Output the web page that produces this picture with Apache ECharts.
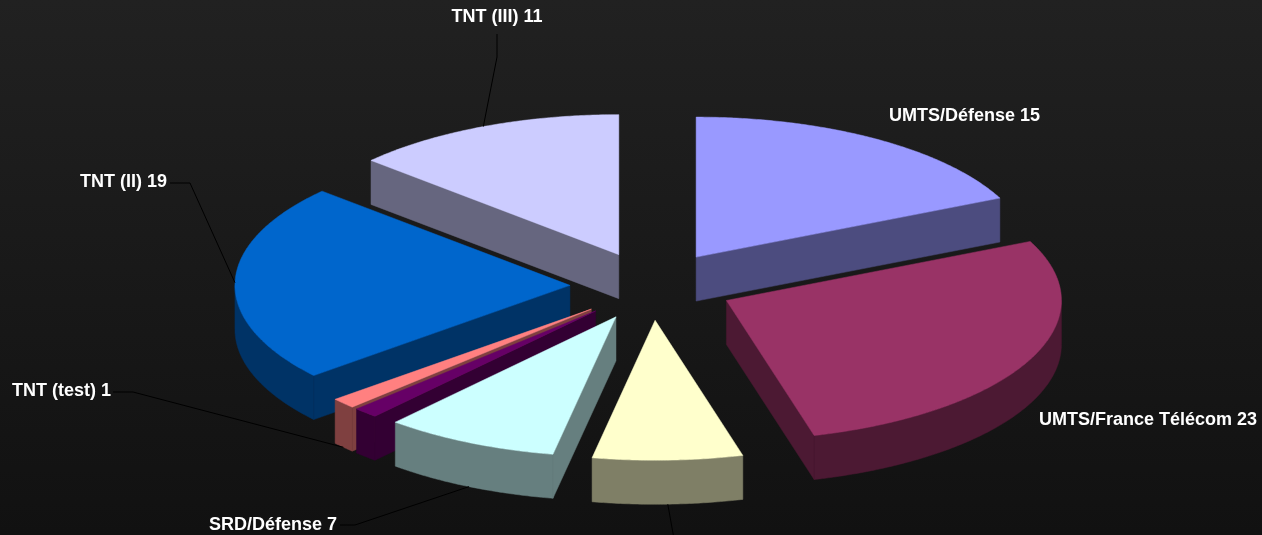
<!DOCTYPE html>
<html><head><meta charset="utf-8">
<script src="https://cdn.jsdelivr.net/npm/echarts@6/dist/echarts.min.js"></script>
<style>html,body{margin:0;padding:0;background:#111}#c{width:1262px;height:535px}</style>
</head><body><div id="c"></div>
<script>
// ---- data ----
const categories = ['UMTS/Défense', 'UMTS/France Télécom', 'Autres', 'SRD/Défense', 'Divers', 'TNT (test)', 'TNT (II)', 'TNT (III)'];
const values = [15, 23, 6, 7, 1, 1, 19, 11];

// ---- styles ----
const topColors  = ['#9999FF', '#993366', '#FFFFCC', '#CCFFFF', '#660066', '#FF8080', '#0066CC', '#CCCCFF'];
const sideColors = ['#4C4C7F', '#4C1933', '#7F7F66', '#667F7F', '#330033', '#7F4040', '#003366', '#66667F'];

// ---- layout ----
const G = { cx: 652, cy: 286, rx: 335, ry: 140, depth: 44, explode: 0.245 };
const labelLayout = [
  { x: 889, y: 116, align: 'left', line: null },
  { x: 1039, y: 420, align: 'left', line: null },
  { x: 676, y: 560, align: 'center', line: [[676, 550]] },
  { x: 337, y: 525, align: 'right', line: [[340, 525], [355, 525]] },
  null,
  { x: 111, y: 391, align: 'right', line: [[113, 392], [133, 392]] },
  { x: 167, y: 182, align: 'right', line: [[170, 183], [190, 183]] },
  { x: 497, y: 17, align: 'center', line: [[497, 34], [497, 57]] }
];
const FONT = 'bold 18px "Liberation Sans", Arial, sans-serif';

const total = values.reduce((a, b) => a + b, 0);
const starts = values.map((v, i) => values.slice(0, i).reduce((a, b) => a + b, 0));
const mids = values.map((v, i) => (starts[i] + v / 2) / total * 2 * Math.PI);
// painter order: back slices first
const order = mids.map((m, i) => i).sort((a, b) => (-Math.cos(mids[a])) - (-Math.cos(mids[b])));
const rank = []; order.forEach((idx, r) => rank[idx] = r);

const seriesData = values.map((v, i) => ({ name: categories[i], value: [v, starts[i], i] }));

function renderItem(params, api) {
  const v = api.value(0), cum = api.value(1), idx = api.value(2);
  const TWO = Math.PI * 2;
  const a0 = cum / total * TWO, a1 = (cum + v) / total * TWO, am = (a0 + a1) / 2;
  const ox = G.cx + G.explode * G.rx * Math.sin(am);
  const oy = G.cy - G.explode * G.ry * Math.cos(am);
  const h = G.depth;
  const P = (a, dz) => [ox + G.rx * Math.sin(a), oy - G.ry * Math.cos(a) + (dz || 0)];
  const arc = (s, e, dz) => {
    const n = Math.max(2, Math.ceil(Math.abs(e - s) / (Math.PI / 360)));
    const pts = [];
    for (let k = 0; k <= n; k++) pts.push(P(s + (e - s) * k / n, dz));
    return pts;
  };
  const z = rank[idx] * 10;
  const side = sideColors[idx], top = topColors[idx];
  const children = [];
  const apex = [ox, oy], apexB = [ox, oy + h];
  if (Math.sin(a0) < -1e-6) {
    children.push({ type: 'polygon', z2: z, shape: { points: [apex, P(a0, 0), P(a0, h), apexB] }, style: { fill: side, stroke: side, lineWidth: 0.5 } });
  }
  if (Math.sin(a1) > 1e-6) {
    children.push({ type: 'polygon', z2: z, shape: { points: [apex, P(a1, 0), P(a1, h), apexB] }, style: { fill: side, stroke: side, lineWidth: 0.5 } });
  }
  const w0 = Math.max(a0, Math.PI / 2), w1 = Math.min(a1, Math.PI * 1.5);
  if (w1 > w0) {
    const pts = arc(w0, w1, 0).concat(arc(w1, w0, h));
    children.push({ type: 'polygon', z2: z + 1, shape: { points: pts }, style: { fill: side, stroke: side, lineWidth: 0.5 } });
  }
  children.push({ type: 'polygon', z2: z + 2, shape: { points: [apex].concat(arc(a0, a1, 0)) }, style: { fill: top, stroke: top, lineWidth: 0.5 } });

  const L = labelLayout[idx];
  if (L) {
    if (L.line) {
      const anchor = Math.cos(am) > 0 ? P(am, 0) : P(am, h);
      children.push({ type: 'polyline', z2: 1000, shape: { points: L.line.concat([anchor]) }, style: { stroke: '#000', lineWidth: 1, fill: null } });
    }
    children.push({
      type: 'text', z2: 1001,
      style: { text: categories[idx] + ' ' + v, x: L.x, y: L.y, font: FONT, fill: '#ffffff', align: L.align, verticalAlign: 'middle', textAlign: L.align, textVerticalAlign: 'middle' }
    });
  }
  return { type: 'group', children };
}

const chart = echarts.init(document.getElementById('c'), null, { renderer: 'canvas' });
chart.setOption({
  animation: false,
  backgroundColor: { type: 'linear', x: 0, y: 0, x2: 0, y2: 1, colorStops: [{ offset: 0, color: '#212121' }, { offset: 1, color: '#111111' }] },
  series: [{
    type: 'custom',
    coordinateSystem: 'none',
    renderItem: renderItem,
    data: seriesData
  }]
});
</script></body></html>
